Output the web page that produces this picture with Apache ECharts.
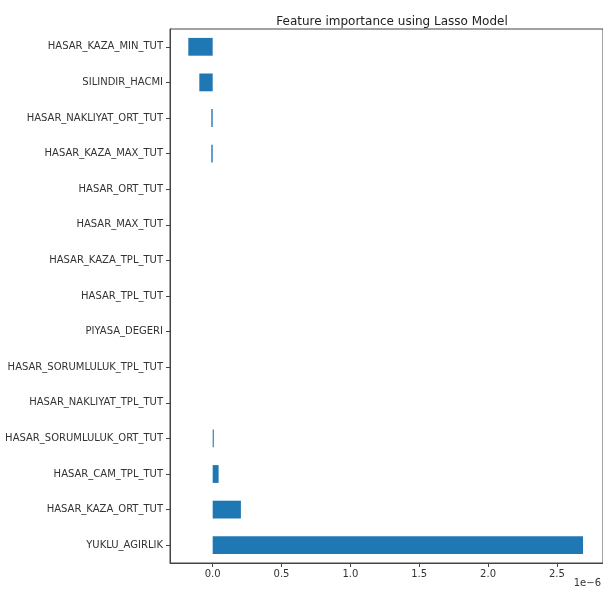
<!DOCTYPE html>
<html>
<head>
<meta charset="utf-8">
<script src="https://cdn.jsdelivr.net/npm/echarts@6/dist/echarts.min.js"></script>
<style>
  html, body { margin: 0; padding: 0; background: #fff; }
  #chart { width: 603px; height: 591px; }
</style>
</head>
<body>
<div id="chart"></div>
<script>
// Lasso coefficients per feature, in units of 1e-6 (top to bottom)
const features = [
  'HASAR_KAZA_MIN_TUT',
  'SILINDIR_HACMI',
  'HASAR_NAKLIYAT_ORT_TUT',
  'HASAR_KAZA_MAX_TUT',
  'HASAR_ORT_TUT',
  'HASAR_MAX_TUT',
  'HASAR_KAZA_TPL_TUT',
  'HASAR_TPL_TUT',
  'PIYASA_DEGERI',
  'HASAR_SORUMLULUK_TPL_TUT',
  'HASAR_NAKLIYAT_TPL_TUT',
  'HASAR_SORUMLULUK_ORT_TUT',
  'HASAR_CAM_TPL_TUT',
  'HASAR_KAZA_ORT_TUT',
  'YUKLU_AGIRLIK'
];
const coefficients = [
  -0.177, -0.097, -0.01, -0.01, 0, 0, 0, 0, 0, 0, 0, 0.008, 0.043, 0.205, 2.69
];
const xTicks = [0, 0.5, 1.0, 1.5, 2.0, 2.5];

const font = 'DejaVu Sans';
const chart = echarts.init(document.getElementById('chart'), null, { renderer: 'canvas' });

chart.setOption({
  animation: false,
  backgroundColor: '#fff',
  title: {
    text: 'Feature importance using Lasso Model',
    left: 387, top: 11, textAlign: 'center',
    textStyle: { fontFamily: font, fontSize: 12, fontWeight: 'normal', color: '#222' }
  },
  graphic: [{
    type: 'text', right: 2, top: 578,
    style: { text: '1e\u22126', font: '10px "DejaVu Sans"', fill: '#333' }
  }],
  grid: {
    left: 170, right: 0, top: 29, bottom: 28,
    show: true, borderColor: '#444', borderWidth: 1,
    outerBoundsMode: 'none'
  },
  xAxis: {
    type: 'value',
    min: -0.31, max: 2.835,
    splitLine: { show: false },
    axisLine: { show: true, onZero: false, lineStyle: { color: '#444' } },
    axisTick: { show: true, length: 4, customValues: xTicks, lineStyle: { color: '#444' } },
    axisLabel: {
      customValues: xTicks, margin: 6,
      fontFamily: font, fontSize: 10, color: '#333',
      formatter: v => v.toFixed(1)
    }
  },
  yAxis: {
    type: 'category',
    data: features,
    inverse: true,
    axisLine: { show: true, onZero: false, lineStyle: { color: '#444' } },
    axisTick: { show: true, length: 4, alignWithLabel: true, lineStyle: { color: '#444' } },
    axisLabel: { fontFamily: font, fontSize: 10, color: '#333', margin: 7 },
    splitLine: { show: false }
  },
  series: [{
    type: 'bar',
    data: coefficients,
    barWidth: '50%',
    itemStyle: { color: '#1f77b4' }
  }]
});
</script>
</body>
</html>
